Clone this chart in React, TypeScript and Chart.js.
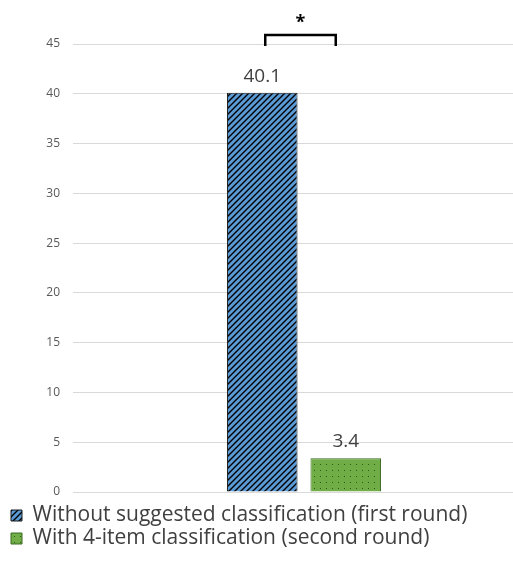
import React, { useEffect, useRef } from "react";
import { Chart, registerables } from "chart.js";

Chart.register(...registerables);

const categories = [""];
const seriesNames = [
  "Without suggested classification (first round)",
  "With 4-item classification (second round)",
];
const withoutValues = [40.1];
const withValues = [3.4];
const significance = "*";

function stripePattern(): CanvasPattern | string {
  const c = document.createElement("canvas");
  c.width = 6;
  c.height = 6;
  const g = c.getContext("2d");
  if (!g) return "#5b9bd5";
  g.fillStyle = "#5b9bd5";
  g.fillRect(0, 0, 6, 6);
  g.strokeStyle = "#000";
  g.lineWidth = 1.4;
  g.beginPath();
  g.moveTo(-1, 7);
  g.lineTo(7, -1);
  g.moveTo(-4, 4);
  g.lineTo(4, -4);
  g.moveTo(2, 10);
  g.lineTo(10, 2);
  g.stroke();
  const p = g.createPattern(c, "repeat");
  return p || "#5b9bd5";
}

function dotPattern(): CanvasPattern | string {
  const c = document.createElement("canvas");
  c.width = 6;
  c.height = 6;
  const g = c.getContext("2d");
  if (!g) return "#70ad47";
  g.fillStyle = "#70ad47";
  g.fillRect(0, 0, 6, 6);
  g.fillStyle = "#2d5a1a";
  g.fillRect(2, 2, 1, 1);
  const p = g.createPattern(c, "repeat");
  return p || "#70ad47";
}

const labelPlugin = {
  id: "barLabels",
  afterDatasetsDraw(chart: any) {
    const ctx = chart.ctx;
    ctx.save();
    ctx.font = "19px 'Open Sans', sans-serif";
    ctx.fillStyle = "#404040";
    ctx.textAlign = "center";
    ctx.textBaseline = "bottom";
    chart.data.datasets.forEach((ds: any, i: number) => {
      const meta = chart.getDatasetMeta(i);
      meta.data.forEach((el: any, j: number) => {
        ctx.fillText(String(ds.data[j]), el.x, el.y - 7);
      });
    });
    const b1 = chart.getDatasetMeta(0).data[0];
    const b2 = chart.getDatasetMeta(1).data[0];
    if (b1 && b2) {
      const x1 = b1.x + 3;
      const x2 = b2.x - 10;
      const yTop = 35;
      const yBot = 46;
      ctx.strokeStyle = "#000";
      ctx.lineWidth = 2.5;
      ctx.beginPath();
      ctx.moveTo(x1, yBot);
      ctx.lineTo(x1, yTop);
      ctx.lineTo(x2, yTop);
      ctx.lineTo(x2, yBot);
      ctx.stroke();
      ctx.fillStyle = "#000";
      ctx.font = "bold 18px 'Open Sans', sans-serif";
      ctx.textBaseline = "middle";
      ctx.fillText(significance, (x1 + x2) / 2, 23);
    }
    ctx.restore();
  },
};

export default function App() {
  const ref = useRef<HTMLCanvasElement>(null);
  useEffect(() => {
    if (!ref.current) return;
    const chart = new Chart(ref.current, {
      type: "bar",
      data: {
        labels: categories,
        datasets: [
          {
            label: seriesNames[0],
            data: withoutValues,
            backgroundColor: stripePattern() as any,
            borderColor: "#1a1a1a",
            borderWidth: 1,
          },
          {
            label: seriesNames[1],
            data: withValues,
            backgroundColor: dotPattern() as any,
            borderColor: "#3a6b22",
            borderWidth: 1,
          },
        ],
      },
      options: {
        responsive: false,
        animation: false,
        categoryPercentage: 0.3615,
        barPercentage: 0.845,
        layout: { padding: { top: 44, right: 5, left: 9, bottom: 3 } },
        scales: {
          x: {
            display: true,
            grid: { display: false, drawTicks: false },
            border: { display: false },
            ticks: { display: false },
            afterFit(scale: any) {
              scale.height = 11;
            },
          },
          y: {
            min: 0,
            max: 45,
            ticks: {
              stepSize: 5,
              padding: 13,
              color: "#595959",
              font: { size: 12, family: "'Open Sans', sans-serif" },
            },
            grid: { color: "#d9d9d9", drawTicks: false },
            border: { display: false },
            afterFit(scale: any) {
              scale.width = 64;
            },
          },
        },
        plugins: {
          tooltip: { enabled: false },
          legend: {
            position: "bottom",
            align: "start",
            labels: {
              boxWidth: 11,
              boxHeight: 11,
              padding: 2,
              color: "#404040",
              font: { size: 21, family: "'Open Sans', sans-serif" },
            },
          },
        },
      },
      plugins: [labelPlugin],
    });
    return () => chart.destroy();
  }, []);
  return (
    <div
      style={{
        position: "fixed",
        left: 0,
        top: 0,
        width: 513,
        height: 562,
        overflow: "hidden",
        background: "#fff",
      }}
    >
      <canvas ref={ref} width={540} height={562} style={{ display: "block" }} />
    </div>
  );
}
